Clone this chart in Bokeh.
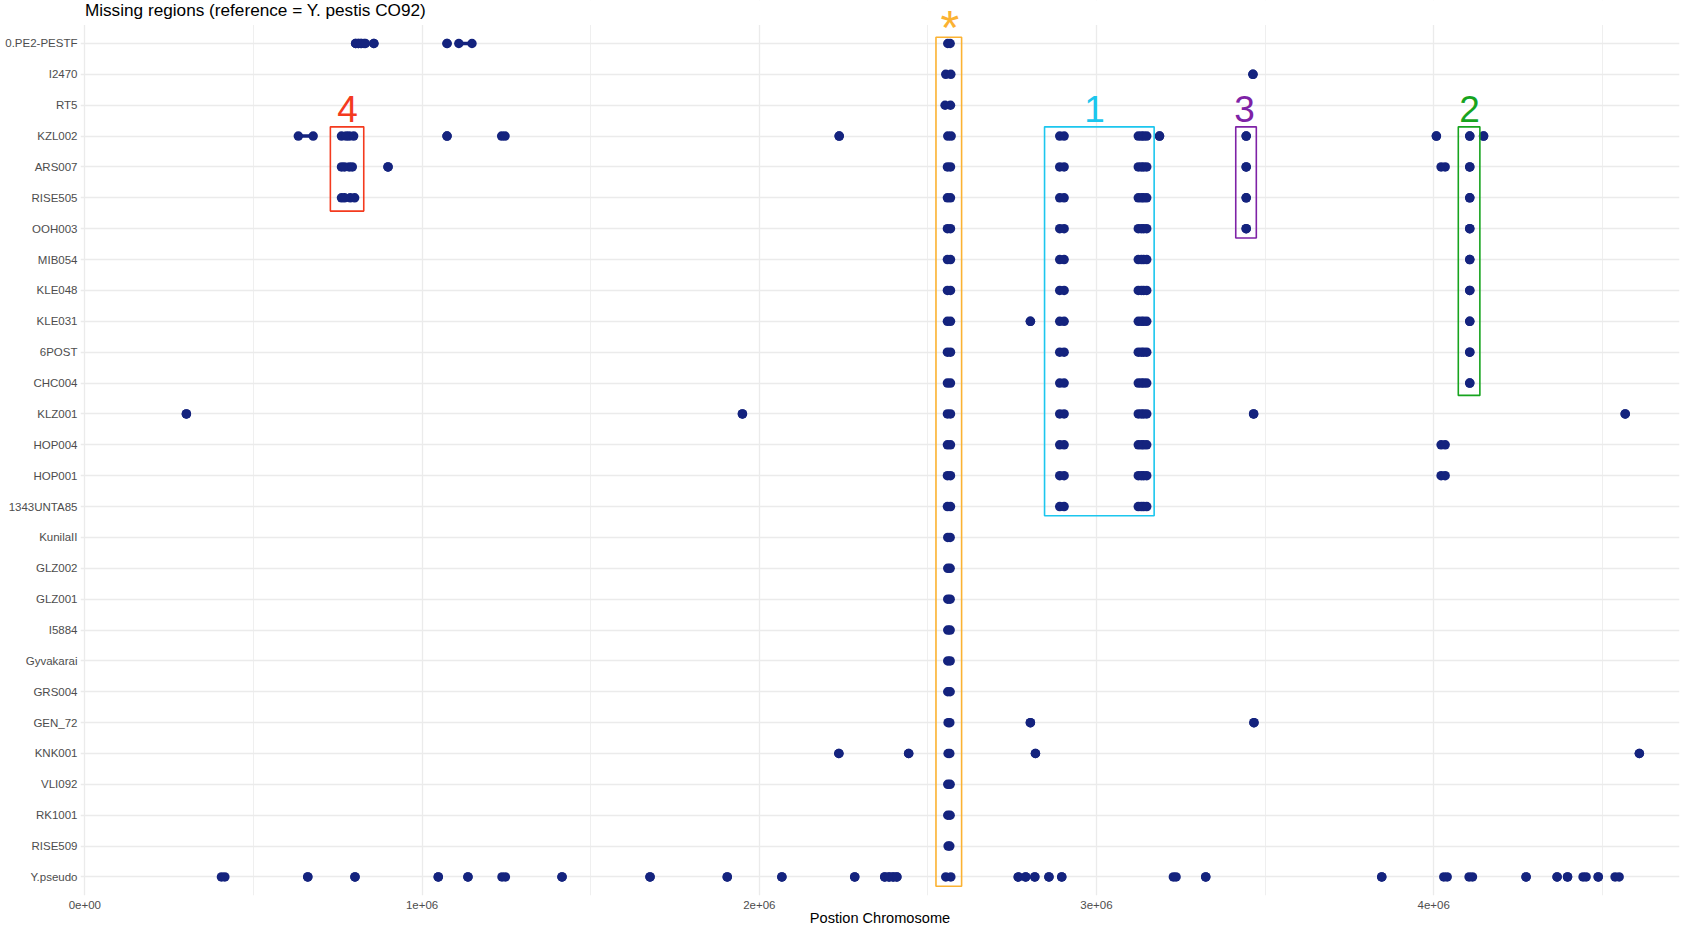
from bokeh.plotting import figure
from bokeh.models import Range1d, FixedTicker, Label, ColumnDataSource, BoxAnnotation
from bokeh.embed import file_html
from bokeh.resources import INLINE

# ---------------- data: missing regions (start, end) in bp ----------------
samples = ["0.PE2-PESTF", "I2470", "RT5", "KZL002", "ARS007", "RISE505", "OOH003",
           "MIB054", "KLE048", "KLE031", "6POST", "CHC004", "KLZ001", "HOP004",
           "HOP001", "1343UNTA85", "KunilaII", "GLZ002", "GLZ001", "I5884",
           "Gyvakarai", "GRS004", "GEN_72", "KNK001", "VLI092", "RK1001",
           "RISE509", "Y.pseudo"]

reg_PE2 = [(803000, 803000), (811000, 811000), (819000, 819000), (828000, 832000), (857000, 857000),
           (1074000, 1074000), (1109000, 1148000), (2559000, 2566000)]
reg_I2470 = [(2553000, 2568000), (3464000, 3464000)]
reg_RT5 = [(2551000, 2567000)]
reg_KZL002 = [(633000, 677000), (761000, 775000), (784000, 797000), (1074000, 1074000), (1236000, 1246000),
              (2237000, 2237000), (2559000, 2569000), (2891000, 2904000), (3124000, 3133000),
              (3140000, 3149000), (3187000, 3187000), (3444000, 3444000), (4008000, 4008000),
              (4107000, 4107000), (4148000, 4148000)]
reg_ARS007 = [(761000, 770000), (784000, 793000), (899000, 899000), (2558000, 2567000), (2891000, 2904000),
              (3124000, 3133000), (3140000, 3149000), (3444000, 3444000), (4022000, 4034000),
              (4107000, 4107000)]
reg_RISE505 = [(761000, 770000), (787000, 800000), (2558000, 2567000), (2891000, 2904000),
               (3124000, 3133000), (3140000, 3149000), (3444000, 3444000), (4107000, 4107000)]
reg_OOH003 = [(2558000, 2567000), (2891000, 2904000), (3124000, 3133000), (3140000, 3149000),
              (3444000, 3444000), (4107000, 4107000)]
reg_MIB054 = [(2558000, 2567000), (2891000, 2904000), (3124000, 3133000), (3140000, 3149000),
              (4107000, 4107000)]
reg_KLE048 = [(2558000, 2567000), (2891000, 2904000), (3124000, 3133000), (3140000, 3149000),
              (4107000, 4107000)]
reg_KLE031 = [(2804000, 2804000), (2558000, 2567000), (2891000, 2904000), (3124000, 3133000),
              (3140000, 3149000), (4107000, 4107000)]
reg_6POST = [(2558000, 2567000), (2891000, 2904000), (3124000, 3133000), (3140000, 3149000),
             (4107000, 4107000)]
reg_CHC004 = [(2558000, 2567000), (2891000, 2904000), (3124000, 3133000), (3140000, 3149000),
              (4107000, 4107000)]
reg_KLZ001 = [(301000, 301000), (1950000, 1950000), (2558000, 2567000), (2891000, 2904000),
              (3124000, 3133000), (3140000, 3149000), (3466000, 3466000), (4568000, 4568000)]
reg_HOP004 = [(2558000, 2567000), (2891000, 2904000), (3124000, 3133000), (3140000, 3149000),
              (4022000, 4034000)]
reg_HOP001 = [(2558000, 2567000), (2891000, 2904000), (3124000, 3133000), (3140000, 3149000),
              (4022000, 4034000)]
reg_1343UNTA85 = [(2558000, 2567000), (2891000, 2904000), (3124000, 3133000), (3140000, 3149000)]
reg_KunilaII = [(2559000, 2566000)]
reg_GLZ002 = [(2559000, 2566000)]
reg_GLZ001 = [(2559000, 2566000)]
reg_I5884 = [(2559000, 2566000)]
reg_Gyvakarai = [(2559000, 2566000)]
reg_GRS004 = [(2559000, 2566000)]
reg_GEN_72 = [(2560000, 2565000), (2804000, 2804000), (3467000, 3467000)]
reg_KNK001 = [(2236000, 2236000), (2443000, 2443000), (2560000, 2565000), (2819000, 2819000),
              (4610000, 4610000)]
reg_VLI092 = [(2559000, 2566000)]
reg_RK1001 = [(2559000, 2566000)]
reg_RISE509 = [(2560000, 2565000)]
reg_Ypseudo = [(405000, 415000), (661000, 661000), (801000, 801000), (1048000, 1048000),
               (1136000, 1136000), (1237000, 1247000), (1415000, 1415000), (1676000, 1676000),
               (1905000, 1905000), (2067000, 2067000), (2283000, 2283000), (2372000, 2372000),
               (2385000, 2385000), (2397000, 2397000), (2408000, 2408000), (2553000, 2568000),
               (2768000, 2768000), (2790000, 2790000), (2817000, 2817000), (2859000, 2859000),
               (2897000, 2897000), (3228000, 3236000), (3324000, 3324000), (3846000, 3846000),
               (4030000, 4040000), (4105000, 4115000), (4274000, 4274000), (4366000, 4366000),
               (4397000, 4397000), (4443000, 4452000), (4488000, 4488000), (4538000, 4550000)]

regions = [reg_PE2, reg_I2470, reg_RT5, reg_KZL002, reg_ARS007, reg_RISE505, reg_OOH003,
           reg_MIB054, reg_KLE048, reg_KLE031, reg_6POST, reg_CHC004, reg_KLZ001, reg_HOP004,
           reg_HOP001, reg_1343UNTA85, reg_KunilaII, reg_GLZ002, reg_GLZ001, reg_I5884,
           reg_Gyvakarai, reg_GRS004, reg_GEN_72, reg_KNK001, reg_VLI092, reg_RK1001,
           reg_RISE509, reg_Ypseudo]

x_ticks = [0, 1000000, 2000000, 3000000, 4000000]
x_tick_labels = ["0e+00", "1e+06", "2e+06", "3e+06", "4e+06"]
x_minor_ticks = [500000, 1500000, 2500000, 3500000, 4500000]

# highlighted regions
box_text = ["*", "1", "3", "2", "4"]
box_colors = ["#FBB232", "#1CC6EE", "#7E22A6", "#17A41E", "#F43A1E"]
box_left = [2524000, 2846000, 3413000, 4073000, 728000]
box_right = [2600000, 3171000, 3474000, 4137000, 827000]
box_bottom = [0.7, 12.7, 21.7, 16.6, 22.57]
box_top = [28.2, 25.3, 25.3, 25.3, 25.3]
label_x = [2565000, 2994000, 3439000, 4106000, 779000]
label_y = [28.53, 25.88, 25.88, 25.88, 25.88]
label_size = ["48px", "37px", "37px", "37px", "37px"]

title = "Missing regions (reference = Y. pestis CO92)"
title_pos = (0, 29.09)
x_label = "Postion Chromosome"

# ---------------- build ----------------
n = len(samples)
panel_top = n + 0.6
x0, x1, yy = [], [], []
for i, regs in enumerate(regions):
    for s, e in regs:
        x0.append(s)
        x1.append(e)
        yy.append(n - i)
src = ColumnDataSource(dict(x0=x0, x1=x1, y=yy))

FONT = "Liberation Sans"
DOT = "#14237E"
# the frame reaches the top edge so that the title and '*' are drawn inside it;
# a white band hides the grid above the data panel
p = figure(width=1686, height=928, output_backend="svg", toolbar_location=None,
           x_range=Range1d(-13000, 4729000), y_range=Range1d(0.4, panel_top + 24.5 / 30.9),
           min_border_left=80, min_border_right=7, min_border_top=0, min_border_bottom=32)
p.outline_line_color = None
p.background_fill_color = "white"
p.border_fill_color = "white"

p.xaxis.ticker = FixedTicker(ticks=x_ticks, minor_ticks=x_minor_ticks)
p.xaxis.major_label_overrides = {t: l for t, l in zip(x_ticks, x_tick_labels)}
p.yaxis.ticker = FixedTicker(ticks=list(range(1, n + 1)))
p.yaxis.major_label_overrides = {n - i: s for i, s in enumerate(samples)}

for ax in (p.xaxis[0], p.yaxis[0]):
    ax.axis_line_color = None
    ax.major_tick_line_color = None
    ax.minor_tick_line_color = None
    ax.major_tick_out = 0
    ax.major_tick_in = 0
    ax.minor_tick_out = 0
    ax.minor_tick_in = 0
    ax.major_label_text_font = FONT
    ax.major_label_text_font_size = "11.5px"
    ax.major_label_text_color = "#4D4D4D"
    ax.major_label_text_line_height = 1.0
p.xaxis.major_label_standoff = 5
p.yaxis.major_label_standoff = 3
p.xaxis.axis_label = x_label
p.xaxis.axis_label_text_font = FONT
p.xaxis.axis_label_text_font_size = "14.6px"
p.xaxis.axis_label_text_font_style = "normal"
p.xaxis.axis_label_text_color = "black"
p.xaxis.axis_label_text_line_height = 1.0
p.xaxis.axis_label_standoff = -2

p.xgrid.grid_line_color = "#EBEBEB"
p.xgrid.grid_line_width = 1.3
p.xgrid.minor_grid_line_color = "#EBEBEB"
p.xgrid.minor_grid_line_width = 0.8
p.ygrid.grid_line_color = "#EBEBEB"
p.ygrid.grid_line_width = 1.3

p.add_layout(BoxAnnotation(bottom=panel_top, fill_color="white", fill_alpha=1.0,
                           line_color=None, level="underlay"))

# regions: segment from start to end with a dot at each end
p.segment(x0="x0", y0="y", x1="x1", y1="y", source=src, line_color=DOT, line_width=3.5)
p.scatter(x="x0", y="y", source=src, size=9.5, fill_color=DOT, line_color=DOT, line_width=0)
p.scatter(x="x1", y="y", source=src, size=9.5, fill_color=DOT, line_color=DOT, line_width=0)

p.quad(left=box_left, right=box_right, bottom=box_bottom, top=box_top,
       fill_color=None, line_color=box_colors, line_width=1.6)

for t, c, lx, ly, fs in zip(box_text, box_colors, label_x, label_y, label_size):
    p.add_layout(Label(x=lx, y=ly, text=t, text_color=c, text_font=FONT,
                       text_font_size=fs, text_align="center", text_baseline="middle"))

p.add_layout(Label(x=title_pos[0], y=title_pos[1], text=title, text_color="black",
                   text_font=FONT, text_font_size="17.2px", text_align="left",
                   text_baseline="middle"))

open("out.html", "w").write(file_html(p, INLINE))
